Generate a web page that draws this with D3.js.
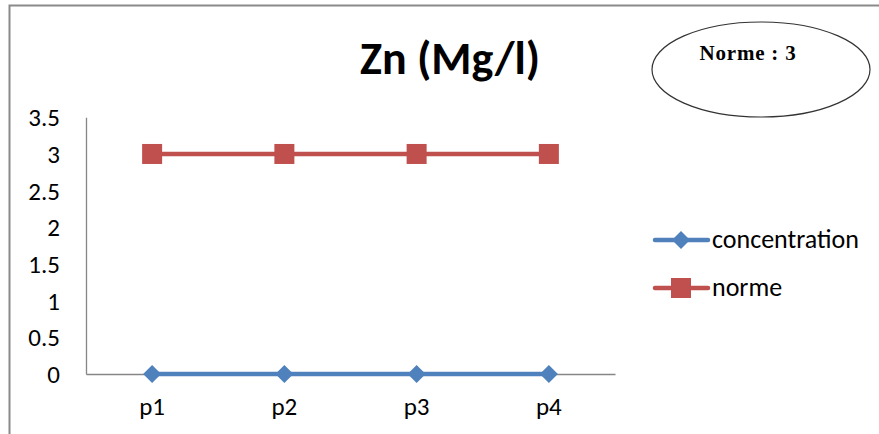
<!DOCTYPE html>
<html>
<head>
<meta charset="utf-8">
<script src="https://cdn.jsdelivr.net/npm/d3@7"></script>
<style>
  html, body { margin: 0; padding: 0; background: #fff; }
  svg { display: block; }
</style>
</head>
<body>
<svg id="chart" width="879" height="434"></svg>
<script>
// Sampling points and measured values (mg/l)
const categories = ["p1", "p2", "p3", "p4"];
const concentration = [0, 0, 0, 0];
const norme = [3, 3, 3, 3];
const yTicks = [0, 0.5, 1, 1.5, 2, 2.5, 3, 3.5];
const seriesNames = ["concentration", "norme"];
const normeNote = "Norme : 3";

const svg = d3.select("#chart");
const font = "Carlito, 'Open Sans', 'Noto Sans', sans-serif";
const labelSize = 25;

// Outer chart frame
svg.append("rect")
  .attr("x", 9.5).attr("y", 5.5)
  .attr("width", 900).attr("height", 500)
  .attr("fill", "none").attr("stroke", "#8a8a8a").attr("stroke-width", 2);

const plot = { left: 86, right: 615, top: 117.3, bottom: 374 };

const x = d3.scaleBand().domain(categories).range([plot.left, plot.right]);
const y = d3.scaleLinear().domain([0, 3.5]).range([plot.bottom, plot.top]);

// Y axis
const yAxis = svg.append("g")
  .attr("transform", `translate(${plot.left},0)`)
  .call(d3.axisLeft(y).tickValues(yTicks).tickSize(0).tickPadding(26).tickFormat(d3.format("")));
yAxis.select(".domain").attr("stroke", "#868686").attr("stroke-width", 1.3);
yAxis.selectAll("text").attr("font-family", font).attr("font-size", labelSize).attr("fill", "#000")
  .attr("dy", "0.34em");

// X axis
const xAxis = svg.append("g")
  .attr("transform", `translate(0,${plot.bottom})`)
  .call(d3.axisBottom(x).tickSize(0).tickPadding(23));
xAxis.select(".domain").attr("stroke", "#868686").attr("stroke-width", 1.3);
xAxis.selectAll("text").attr("font-family", font).attr("font-size", labelSize).attr("fill", "#000");

const cx = d => x(d) + x.bandwidth() / 2;
const line = d3.line().x((d, i) => cx(categories[i])).y(d => y(d));

const colors = { concentration: "#4F81BD", norme: "#C0504D" };

// norme series: line with square markers
svg.append("path").datum(norme)
  .attr("d", line).attr("fill", "none")
  .attr("stroke", colors.norme).attr("stroke-width", 4.5);
svg.selectAll(".sq").data(norme).enter().append("rect")
  .attr("x", (d, i) => cx(categories[i]) - 10)
  .attr("y", d => y(d) - 10)
  .attr("width", 20).attr("height", 20)
  .attr("fill", colors.norme);

// concentration series: line with diamond markers
svg.append("path").datum(concentration)
  .attr("d", line).attr("fill", "none")
  .attr("stroke", colors.concentration).attr("stroke-width", 4.5);
const diamond = "M0,-9L9,0L0,9L-9,0Z";
svg.selectAll(".dm").data(concentration).enter().append("path")
  .attr("d", diamond)
  .attr("transform", (d, i) => `translate(${cx(categories[i])},${y(d)})`)
  .attr("fill", colors.concentration);

// Title
svg.append("text")
  .attr("x", 450).attr("y", 74)
  .attr("text-anchor", "middle")
  .attr("font-family", font).attr("font-weight", "bold").attr("font-size", 46)
  .text("Zn (Mg/l)");

// Annotation ellipse
svg.append("ellipse")
  .attr("cx", 761).attr("cy", 69.5).attr("rx", 109).attr("ry", 47.5)
  .attr("fill", "none").attr("stroke", "#333").attr("stroke-width", 1.2);
svg.append("text")
  .attr("x", 748).attr("y", 60)
  .attr("text-anchor", "middle")
  .attr("font-family", "'Liberation Serif', 'DejaVu Serif', serif")
  .attr("font-weight", "bold").attr("font-size", 21)
  .attr("letter-spacing", 0.8)
  .text(normeNote);

// Legend
const legend = svg.append("g");
seriesNames.forEach((name, i) => {
  const ly = 240 + i * 48;
  legend.append("line")
    .attr("x1", 655).attr("x2", 708).attr("y1", ly).attr("y2", ly)
    .attr("stroke", colors[name]).attr("stroke-width", 4.5).attr("stroke-linecap", "round");
  if (name === "norme") {
    legend.append("rect").attr("x", 671).attr("y", ly - 10).attr("width", 20).attr("height", 20)
      .attr("fill", colors[name]);
  } else {
    legend.append("path").attr("d", diamond).attr("transform", `translate(681,${ly})`)
      .attr("fill", colors[name]);
  }
  legend.append("text")
    .attr("x", 712).attr("y", ly + 8)
    .attr("font-family", font).attr("font-size", 26)
    .text(name);
});
</script>
</body>
</html>
